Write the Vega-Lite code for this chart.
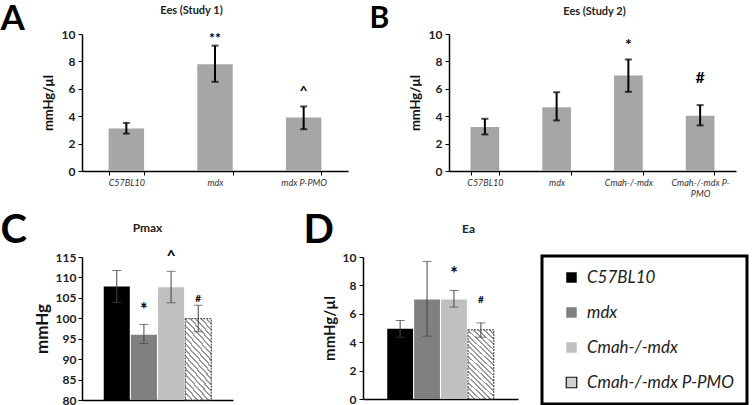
{
  "$schema": "https://vega.github.io/schema/vega-lite/v6.json",
  "padding": {"left": 0, "top": 1, "right": 0, "bottom": 0},
  "background": "white",
  "bounds": "flush",
  "spacing": 223,
  "config": {
    "view": {"stroke": null},
    "font": "Lato",
    "axis": {"grid": false, "labelOverlap": false, "domainColor": "#000", "tickColor": "#000", "labelColor": "#222", "titleColor": "#111", "labelFont": "Lato", "titleFont": "Lato"},
    "legend": {"strokeWidth": 3}
  },
  "datasets": {
    "studyA": [
      {"group": "C57BL10", "mean": 3.1, "lo": 2.73, "hi": 3.51, "sig": "", "sigY": null},
      {"group": "mdx", "mean": 7.8, "lo": 6.51, "hi": 9.15, "sig": "**", "sigY": 9.64},
      {"group": "mdx P-PMO", "mean": 3.9, "lo": 3.05, "hi": 4.71, "sig": "^", "sigY": 5.78}
    ],
    "studyB": [
      {"group": "C57BL10", "mean": 3.22, "lo": 2.67, "hi": 3.81, "sig": "", "sigY": null},
      {"group": "mdx", "mean": 4.66, "lo": 3.69, "hi": 5.75, "sig": "", "sigY": null},
      {"group": "Cmah-/-mdx", "mean": 6.97, "lo": 5.78, "hi": 8.14, "sig": "*", "sigY": 9.2},
      {"group": "Cmah-/-mdx P-PMO", "mean": 4.03, "lo": 3.33, "hi": 4.81, "sig": "#", "sigY": 6.8}
    ],
    "pmax": [
      {"group": "C57BL10", "mean": 107.8, "lo": 103.9, "hi": 111.7, "sig": "", "sigY": null, "sigSize": 10},
      {"group": "mdx", "mean": 96.0, "lo": 93.8, "hi": 98.5, "sig": "*", "sigY": 101.7, "sigSize": 18},
      {"group": "Cmah-/-mdx", "mean": 107.6, "lo": 103.8, "hi": 111.5, "sig": "^", "sigY": 115.2, "sigSize": 16},
      {"group": "Cmah-/-mdx P-PMO", "mean": 99.9, "lo": 96.7, "hi": 103.2, "sig": "#", "sigY": 104.6, "sigSize": 10}
    ],
    "ea": [
      {"group": "C57BL10", "mean": 4.94, "lo": 4.35, "hi": 5.53, "sig": "", "sigY": null, "sigSize": 10},
      {"group": "mdx", "mean": 7.0, "lo": 4.42, "hi": 9.69, "sig": "", "sigY": null, "sigSize": 10},
      {"group": "Cmah-/-mdx", "mean": 7.0, "lo": 6.47, "hi": 7.64, "sig": "*", "sigY": 8.73, "sigSize": 18},
      {"group": "Cmah-/-mdx P-PMO", "mean": 4.87, "lo": 4.35, "hi": 5.36, "sig": "#", "sigY": 6.95, "sigSize": 10}
    ]
  },
  "vconcat": [
    {
      "hconcat": [
        {
          "width": 266, "height": 137,
          "data": {"name": "studyA"},
          "layer": [
            {
              "mark": {"type": "bar", "color": "#a6a6a6"},
              "encoding": {
                "x": {"field": "group", "type": "nominal", "sort": null,
                  "scale": {"domain": ["C57BL10", "mdx", "mdx P-PMO"], "paddingInner": 0.6, "paddingOuter": 0.3},
                  "axis": {"title": null, "labelAngle": 0, "labelFontStyle": "italic", "labelFontSize": 9, "labelColor": "#333", "tickBand": "extent", "tickSize": 4, "labelPadding": 3, "domainWidth": 1.5}},
                "y": {"field": "mean", "type": "quantitative", "scale": {"domain": [0, 10]},
                  "axis": {"values": [0, 2, 4, 6, 8, 10], "labelOverlap": false, "title": "mmHg/µl", "titleFontSize": 13, "titleFontWeight": "bold", "labelFontSize": 12, "labelFontWeight": "bold", "tickSize": 4, "labelPadding": 3, "titlePadding": 6, "domainWidth": 1.5}}
              }
            },
            {
              "mark": {"type": "rule", "color": "#000", "strokeWidth": 2},
              "encoding": {
                "x": {"field": "group", "type": "nominal", "sort": null,
                  "axis": {"orient": "top", "labels": false, "ticks": false, "domain": false, "title": "Ees (Study 1)", "titleX": 109, "titleY": -21, "titleAlign": "center", "titleBaseline": "alphabetic", "titleAngle": 0, "titleFontSize": 11, "titleFontWeight": "bold", "titleColor": "#222"}},
                "y": {"field": "lo", "type": "quantitative", "axis": null},
                "y2": {"field": "hi"}
              }
            },
            {
              "mark": {"type": "tick", "color": "#000", "thickness": 2, "size": 7},
              "encoding": {
                "x": {"field": "group", "type": "nominal", "sort": null, "axis": null},
                "y": {"field": "lo", "type": "quantitative", "axis": null}
              }
            },
            {
              "mark": {"type": "tick", "color": "#000", "thickness": 2, "size": 7},
              "encoding": {
                "x": {"field": "group", "type": "nominal", "sort": null, "axis": null},
                "y": {"field": "hi", "type": "quantitative", "axis": null}
              }
            },
            {
              "transform": [{"filter": "datum.sig != ''"}],
              "mark": {"type": "text", "fontSize": 14, "fontWeight": "bold", "baseline": "middle", "color": "#000"},
              "encoding": {
                "x": {"field": "group", "type": "nominal", "sort": null,
                  "axis": {"orient": "top", "labels": false, "ticks": false, "domain": false, "title": "A", "titleX": -82, "titleY": -5, "titleAlign": "left", "titleBaseline": "alphabetic", "titleAngle": 0, "titleFontSize": 35, "titleFontWeight": "bold", "titleColor": "#000"}},
                "y": {"field": "sigY", "type": "quantitative", "axis": null},
                "text": {"field": "sig"}
              }
            }
          ],
          "resolve": {"axis": {"x": "independent", "y": "independent"}}
        },
        {
          "width": 287, "height": 137,
          "data": {"name": "studyB"},
          "layer": [
            {
              "mark": {"type": "bar", "color": "#a6a6a6"},
              "encoding": {
                "x": {"field": "group", "type": "nominal", "sort": null,
                  "scale": {"domain": ["C57BL10", "mdx", "Cmah-/-mdx", "Cmah-/-mdx P-PMO"], "paddingInner": 0.6, "paddingOuter": 0.3},
                  "axis": {"title": null, "labelAngle": 0, "labelFontStyle": "italic", "labelFontSize": 9, "labelColor": "#333", "tickBand": "extent", "tickSize": 4, "labelPadding": 3, "domainWidth": 1.5, "labelLineHeight": 11,
                    "labelExpr": "datum.value == 'Cmah-/-mdx P-PMO' ? ['Cmah-/-mdx P-', 'PMO'] : datum.value"}},
                "y": {"field": "mean", "type": "quantitative", "scale": {"domain": [0, 10]},
                  "axis": {"values": [0, 2, 4, 6, 8, 10], "labelOverlap": false, "title": "mmHg/µl", "titleFontSize": 13, "titleFontWeight": "bold", "labelFontSize": 12, "labelFontWeight": "bold", "tickSize": 4, "labelPadding": 3, "titlePadding": 6, "domainWidth": 1.5}}
              }
            },
            {
              "mark": {"type": "rule", "color": "#000", "strokeWidth": 2},
              "encoding": {
                "x": {"field": "group", "type": "nominal", "sort": null,
                  "axis": {"orient": "top", "labels": false, "ticks": false, "domain": false, "title": "Ees (Study 2)", "titleX": 145, "titleY": -20, "titleAlign": "center", "titleBaseline": "alphabetic", "titleAngle": 0, "titleFontSize": 11, "titleFontWeight": "bold", "titleColor": "#222"}},
                "y": {"field": "lo", "type": "quantitative", "axis": null},
                "y2": {"field": "hi"}
              }
            },
            {
              "mark": {"type": "tick", "color": "#000", "thickness": 2, "size": 7},
              "encoding": {
                "x": {"field": "group", "type": "nominal", "sort": null, "axis": null},
                "y": {"field": "lo", "type": "quantitative", "axis": null}
              }
            },
            {
              "mark": {"type": "tick", "color": "#000", "thickness": 2, "size": 7},
              "encoding": {
                "x": {"field": "group", "type": "nominal", "sort": null, "axis": null},
                "y": {"field": "hi", "type": "quantitative", "axis": null}
              }
            },
            {
              "transform": [{"filter": "datum.sig != ''"}],
              "mark": {"type": "text", "fontSize": 16, "fontWeight": "bold", "baseline": "middle", "color": "#000"},
              "encoding": {
                "x": {"field": "group", "type": "nominal", "sort": null,
                  "axis": {"orient": "top", "labels": false, "ticks": false, "domain": false, "title": "B", "titleX": -80, "titleY": -7, "titleAlign": "left", "titleBaseline": "alphabetic", "titleAngle": 0, "titleFontSize": 30, "titleFontWeight": "bold", "titleColor": "#000"}},
                "y": {"field": "sigY", "type": "quantitative", "axis": null},
                "text": {"field": "sig"}
              }
            }
          ],
          "resolve": {"axis": {"x": "independent", "y": "independent"}}
        }
      ],
      "spacing": 101,
      "bounds": "flush"
    },
    {
      "hconcat": [
        {
          "width": 151, "height": 143,
          "data": {"name": "pmax"},
          "layer": [
            {
              "mark": {"type": "bar", "strokeDash": [2, 1], "strokeWidth": 1},
              "encoding": {
                "x": {"field": "group", "type": "nominal", "sort": null,
                  "scale": {"domain": ["C57BL10", "mdx", "Cmah-/-mdx", "Cmah-/-mdx P-PMO"], "paddingInner": 0.04, "paddingOuter": 0.8},
                  "axis": {"title": null, "labels": false, "ticks": false, "domainWidth": 1.5}},
                "y": {"field": "mean", "type": "quantitative", "scale": {"domain": [80, 115], "zero": false},
                  "axis": {"values": [80, 85, 90, 95, 100, 105, 110, 115], "labelOverlap": false, "title": "mmHg", "titleFontSize": 17, "titleFontWeight": "bold", "labelFontSize": 12, "labelFontWeight": "bold", "tickSize": 4, "labelPadding": 2, "titlePadding": 4, "domainWidth": 1.5}},
                "y2": {"datum": 80},
                "fill": {
                  "condition": {"test": "datum.group == 'Cmah-/-mdx P-PMO'", "value": {"gradient": "linear", "x1": 1, "y1": 0, "x2": 0.57, "y2": 1.2, "stops": [
                    {"offset": 0, "color": "#ffffff"}, {"offset": 0.0361, "color": "#ffffff"}, {"offset": 0.0361, "color": "#999999"}, {"offset": 0.0556, "color": "#999999"},
                    {"offset": 0.0556, "color": "#ffffff"}, {"offset": 0.0917, "color": "#ffffff"}, {"offset": 0.0917, "color": "#999999"}, {"offset": 0.1111, "color": "#999999"},
                    {"offset": 0.1111, "color": "#ffffff"}, {"offset": 0.1472, "color": "#ffffff"}, {"offset": 0.1472, "color": "#999999"}, {"offset": 0.1667, "color": "#999999"},
                    {"offset": 0.1667, "color": "#ffffff"}, {"offset": 0.2028, "color": "#ffffff"}, {"offset": 0.2028, "color": "#999999"}, {"offset": 0.2222, "color": "#999999"},
                    {"offset": 0.2222, "color": "#ffffff"}, {"offset": 0.2583, "color": "#ffffff"}, {"offset": 0.2583, "color": "#999999"}, {"offset": 0.2778, "color": "#999999"},
                    {"offset": 0.2778, "color": "#ffffff"}, {"offset": 0.3139, "color": "#ffffff"}, {"offset": 0.3139, "color": "#999999"}, {"offset": 0.3333, "color": "#999999"},
                    {"offset": 0.3333, "color": "#ffffff"}, {"offset": 0.3694, "color": "#ffffff"}, {"offset": 0.3694, "color": "#999999"}, {"offset": 0.3889, "color": "#999999"},
                    {"offset": 0.3889, "color": "#ffffff"}, {"offset": 0.4250, "color": "#ffffff"}, {"offset": 0.4250, "color": "#999999"}, {"offset": 0.4444, "color": "#999999"},
                    {"offset": 0.4444, "color": "#ffffff"}, {"offset": 0.4806, "color": "#ffffff"}, {"offset": 0.4806, "color": "#999999"}, {"offset": 0.5, "color": "#999999"},
                    {"offset": 0.5, "color": "#ffffff"}, {"offset": 0.5361, "color": "#ffffff"}, {"offset": 0.5361, "color": "#999999"}, {"offset": 0.5556, "color": "#999999"},
                    {"offset": 0.5556, "color": "#ffffff"}, {"offset": 0.5917, "color": "#ffffff"}, {"offset": 0.5917, "color": "#999999"}, {"offset": 0.6111, "color": "#999999"},
                    {"offset": 0.6111, "color": "#ffffff"}, {"offset": 0.6472, "color": "#ffffff"}, {"offset": 0.6472, "color": "#999999"}, {"offset": 0.6667, "color": "#999999"},
                    {"offset": 0.6667, "color": "#ffffff"}, {"offset": 0.7028, "color": "#ffffff"}, {"offset": 0.7028, "color": "#999999"}, {"offset": 0.7222, "color": "#999999"},
                    {"offset": 0.7222, "color": "#ffffff"}, {"offset": 0.7583, "color": "#ffffff"}, {"offset": 0.7583, "color": "#999999"}, {"offset": 0.7778, "color": "#999999"},
                    {"offset": 0.7778, "color": "#ffffff"}, {"offset": 0.8139, "color": "#ffffff"}, {"offset": 0.8139, "color": "#999999"}, {"offset": 0.8333, "color": "#999999"},
                    {"offset": 0.8333, "color": "#ffffff"}, {"offset": 0.8694, "color": "#ffffff"}, {"offset": 0.8694, "color": "#999999"}, {"offset": 0.8889, "color": "#999999"},
                    {"offset": 0.8889, "color": "#ffffff"}, {"offset": 0.9250, "color": "#ffffff"}, {"offset": 0.9250, "color": "#999999"}, {"offset": 0.9444, "color": "#999999"},
                    {"offset": 0.9444, "color": "#ffffff"}, {"offset": 0.9806, "color": "#ffffff"}, {"offset": 0.9806, "color": "#999999"}, {"offset": 1, "color": "#999999"}
                  ]}},
                  "field": "group", "type": "nominal", "legend": null,
                  "scale": {"domain": ["C57BL10", "mdx", "Cmah-/-mdx", "Cmah-/-mdx P-PMO"], "range": ["#000000", "#808080", "#c0c0c0", "#d0d0d0"]}},
                "stroke": {"condition": {"test": "datum.group == 'Cmah-/-mdx P-PMO'", "value": "#333"}, "value": "transparent"}
              }
            },
            {
              "mark": {"type": "rule", "color": "#444", "strokeWidth": 1},
              "encoding": {
                "x": {"field": "group", "type": "nominal", "sort": null,
                  "axis": {"orient": "top", "labels": false, "ticks": false, "domain": false, "title": "Pmax", "titleX": 65, "titleY": -26, "titleAlign": "center", "titleBaseline": "alphabetic", "titleAngle": 0, "titleFontSize": 12, "titleFontWeight": "bold", "titleColor": "#222"}},
                "y": {"field": "lo", "type": "quantitative", "axis": null},
                "y2": {"field": "hi"}
              }
            },
            {
              "mark": {"type": "tick", "color": "#444", "thickness": 1, "size": 9},
              "encoding": {
                "x": {"field": "group", "type": "nominal", "sort": null, "axis": null},
                "y": {"field": "lo", "type": "quantitative", "axis": null}
              }
            },
            {
              "mark": {"type": "tick", "color": "#444", "thickness": 1, "size": 9},
              "encoding": {
                "x": {"field": "group", "type": "nominal", "sort": null, "axis": null},
                "y": {"field": "hi", "type": "quantitative", "axis": null}
              }
            },
            {
              "transform": [{"filter": "datum.sig != ''"}],
              "mark": {"type": "text", "fontWeight": "bold", "baseline": "middle", "color": "#000"},
              "encoding": {
                "x": {"field": "group", "type": "nominal", "sort": null,
                  "axis": {"orient": "top", "labels": false, "ticks": false, "domain": false, "title": "C", "titleX": -82, "titleY": -15, "titleAlign": "left", "titleBaseline": "alphabetic", "titleAngle": 0, "titleFontSize": 40, "titleFontWeight": "bold", "titleColor": "#000"}},
                "y": {"field": "sigY", "type": "quantitative", "axis": null},
                "text": {"field": "sig"},
                "size": {"field": "sigSize", "type": "quantitative", "scale": null}
              }
            }
          ],
          "resolve": {"axis": {"x": "independent", "y": "independent"}}
        },
        {
          "width": 155, "height": 142,
          "data": {"name": "ea"},
          "layer": [
            {
              "mark": {"type": "bar", "strokeDash": [2, 1], "strokeWidth": 1},
              "encoding": {
                "x": {"field": "group", "type": "nominal", "sort": null,
                  "scale": {"domain": ["C57BL10", "mdx", "Cmah-/-mdx", "Cmah-/-mdx P-PMO"], "paddingInner": 0.04, "paddingOuter": 0.9},
                  "axis": {"title": null, "labels": false, "ticks": false, "domainWidth": 1.5}},
                "y": {"field": "mean", "type": "quantitative", "scale": {"domain": [0, 10]},
                  "axis": {"values": [0, 2, 4, 6, 8, 10], "labelOverlap": false, "title": "mmHg/µl", "titleFontSize": 15, "titleFontWeight": "bold", "labelFontSize": 12, "labelFontWeight": "bold", "tickSize": 4, "labelPadding": 3, "titlePadding": 5, "domainWidth": 1.5}},
                "fill": {
                  "condition": {"test": "datum.group == 'Cmah-/-mdx P-PMO'", "value": {"gradient": "linear", "x1": 1, "y1": 0, "x2": 0.57, "y2": 1.2, "stops": [
                    {"offset": 0, "color": "#ffffff"}, {"offset": 0.0361, "color": "#ffffff"}, {"offset": 0.0361, "color": "#999999"}, {"offset": 0.0556, "color": "#999999"},
                    {"offset": 0.0556, "color": "#ffffff"}, {"offset": 0.0917, "color": "#ffffff"}, {"offset": 0.0917, "color": "#999999"}, {"offset": 0.1111, "color": "#999999"},
                    {"offset": 0.1111, "color": "#ffffff"}, {"offset": 0.1472, "color": "#ffffff"}, {"offset": 0.1472, "color": "#999999"}, {"offset": 0.1667, "color": "#999999"},
                    {"offset": 0.1667, "color": "#ffffff"}, {"offset": 0.2028, "color": "#ffffff"}, {"offset": 0.2028, "color": "#999999"}, {"offset": 0.2222, "color": "#999999"},
                    {"offset": 0.2222, "color": "#ffffff"}, {"offset": 0.2583, "color": "#ffffff"}, {"offset": 0.2583, "color": "#999999"}, {"offset": 0.2778, "color": "#999999"},
                    {"offset": 0.2778, "color": "#ffffff"}, {"offset": 0.3139, "color": "#ffffff"}, {"offset": 0.3139, "color": "#999999"}, {"offset": 0.3333, "color": "#999999"},
                    {"offset": 0.3333, "color": "#ffffff"}, {"offset": 0.3694, "color": "#ffffff"}, {"offset": 0.3694, "color": "#999999"}, {"offset": 0.3889, "color": "#999999"},
                    {"offset": 0.3889, "color": "#ffffff"}, {"offset": 0.4250, "color": "#ffffff"}, {"offset": 0.4250, "color": "#999999"}, {"offset": 0.4444, "color": "#999999"},
                    {"offset": 0.4444, "color": "#ffffff"}, {"offset": 0.4806, "color": "#ffffff"}, {"offset": 0.4806, "color": "#999999"}, {"offset": 0.5, "color": "#999999"},
                    {"offset": 0.5, "color": "#ffffff"}, {"offset": 0.5361, "color": "#ffffff"}, {"offset": 0.5361, "color": "#999999"}, {"offset": 0.5556, "color": "#999999"},
                    {"offset": 0.5556, "color": "#ffffff"}, {"offset": 0.5917, "color": "#ffffff"}, {"offset": 0.5917, "color": "#999999"}, {"offset": 0.6111, "color": "#999999"},
                    {"offset": 0.6111, "color": "#ffffff"}, {"offset": 0.6472, "color": "#ffffff"}, {"offset": 0.6472, "color": "#999999"}, {"offset": 0.6667, "color": "#999999"},
                    {"offset": 0.6667, "color": "#ffffff"}, {"offset": 0.7028, "color": "#ffffff"}, {"offset": 0.7028, "color": "#999999"}, {"offset": 0.7222, "color": "#999999"},
                    {"offset": 0.7222, "color": "#ffffff"}, {"offset": 0.7583, "color": "#ffffff"}, {"offset": 0.7583, "color": "#999999"}, {"offset": 0.7778, "color": "#999999"},
                    {"offset": 0.7778, "color": "#ffffff"}, {"offset": 0.8139, "color": "#ffffff"}, {"offset": 0.8139, "color": "#999999"}, {"offset": 0.8333, "color": "#999999"},
                    {"offset": 0.8333, "color": "#ffffff"}, {"offset": 0.8694, "color": "#ffffff"}, {"offset": 0.8694, "color": "#999999"}, {"offset": 0.8889, "color": "#999999"},
                    {"offset": 0.8889, "color": "#ffffff"}, {"offset": 0.9250, "color": "#ffffff"}, {"offset": 0.9250, "color": "#999999"}, {"offset": 0.9444, "color": "#999999"},
                    {"offset": 0.9444, "color": "#ffffff"}, {"offset": 0.9806, "color": "#ffffff"}, {"offset": 0.9806, "color": "#999999"}, {"offset": 1, "color": "#999999"}
                  ]}},
                  "field": "group", "type": "nominal",
                  "scale": {"domain": ["C57BL10", "mdx", "Cmah-/-mdx", "Cmah-/-mdx P-PMO"], "range": ["#000000", "#808080", "#c0c0c0", "#d0d0d0"]},
                  "legend": {"orient": "none", "legendX": 179, "legendY": -1, "title": null, "strokeColor": "#000", "padding": 13, "rowPadding": 17, "symbolType": "square", "symbolSize": 110, "symbolOffset": 8, "labelOffset": 7, "labelFontSize": 17, "labelFontStyle": "italic", "labelColor": "#222", "labelFont": "Lato", "labelLimit": 300, "symbolStrokeWidth": 1.2, "symbolStrokeColor": "transparent",
                    "encode": {
                      "legend": {"update": {"strokeWidth": {"value": 3}}},
                      "symbols": {"update": {"stroke": {"signal": "datum.value === 'Cmah-/-mdx P-PMO' ? '#111' : 'transparent'"}, "strokeWidth": {"value": 1.2}}}
                    }}},
                "stroke": {"condition": {"test": "datum.group == 'Cmah-/-mdx P-PMO'", "value": "#333"}, "value": "transparent"}
              }
            },
            {
              "mark": {"type": "rule", "color": "#444", "strokeWidth": 1},
              "encoding": {
                "x": {"field": "group", "type": "nominal", "sort": null,
                  "axis": {"orient": "top", "labels": false, "ticks": false, "domain": false, "title": "Ea", "titleX": 105, "titleY": -25, "titleAlign": "center", "titleBaseline": "alphabetic", "titleAngle": 0, "titleFontSize": 12, "titleFontWeight": "bold", "titleColor": "#222"}},
                "y": {"field": "lo", "type": "quantitative", "axis": null},
                "y2": {"field": "hi"}
              }
            },
            {
              "mark": {"type": "tick", "color": "#444", "thickness": 1, "size": 9},
              "encoding": {
                "x": {"field": "group", "type": "nominal", "sort": null, "axis": null},
                "y": {"field": "lo", "type": "quantitative", "axis": null}
              }
            },
            {
              "mark": {"type": "tick", "color": "#444", "thickness": 1, "size": 9},
              "encoding": {
                "x": {"field": "group", "type": "nominal", "sort": null, "axis": null},
                "y": {"field": "hi", "type": "quantitative", "axis": null}
              }
            },
            {
              "transform": [{"filter": "datum.sig != ''"}],
              "mark": {"type": "text", "fontWeight": "bold", "baseline": "middle", "color": "#000"},
              "encoding": {
                "x": {"field": "group", "type": "nominal", "sort": null,
                  "axis": {"orient": "top", "labels": false, "ticks": false, "domain": false, "title": "D", "titleX": -60, "titleY": -15, "titleAlign": "left", "titleBaseline": "alphabetic", "titleAngle": 0, "titleFontSize": 40, "titleFontWeight": "bold", "titleColor": "#000"}},
                "y": {"field": "sigY", "type": "quantitative", "axis": null},
                "text": {"field": "sig"},
                "size": {"field": "sigSize", "type": "quantitative", "scale": null}
              }
            }
          ],
          "resolve": {"axis": {"x": "independent", "y": "independent"}}
        }
      ],
      "spacing": 130,
      "bounds": "flush",
      "resolve": {"scale": {"fill": "independent"}}
    }
  ]
}
